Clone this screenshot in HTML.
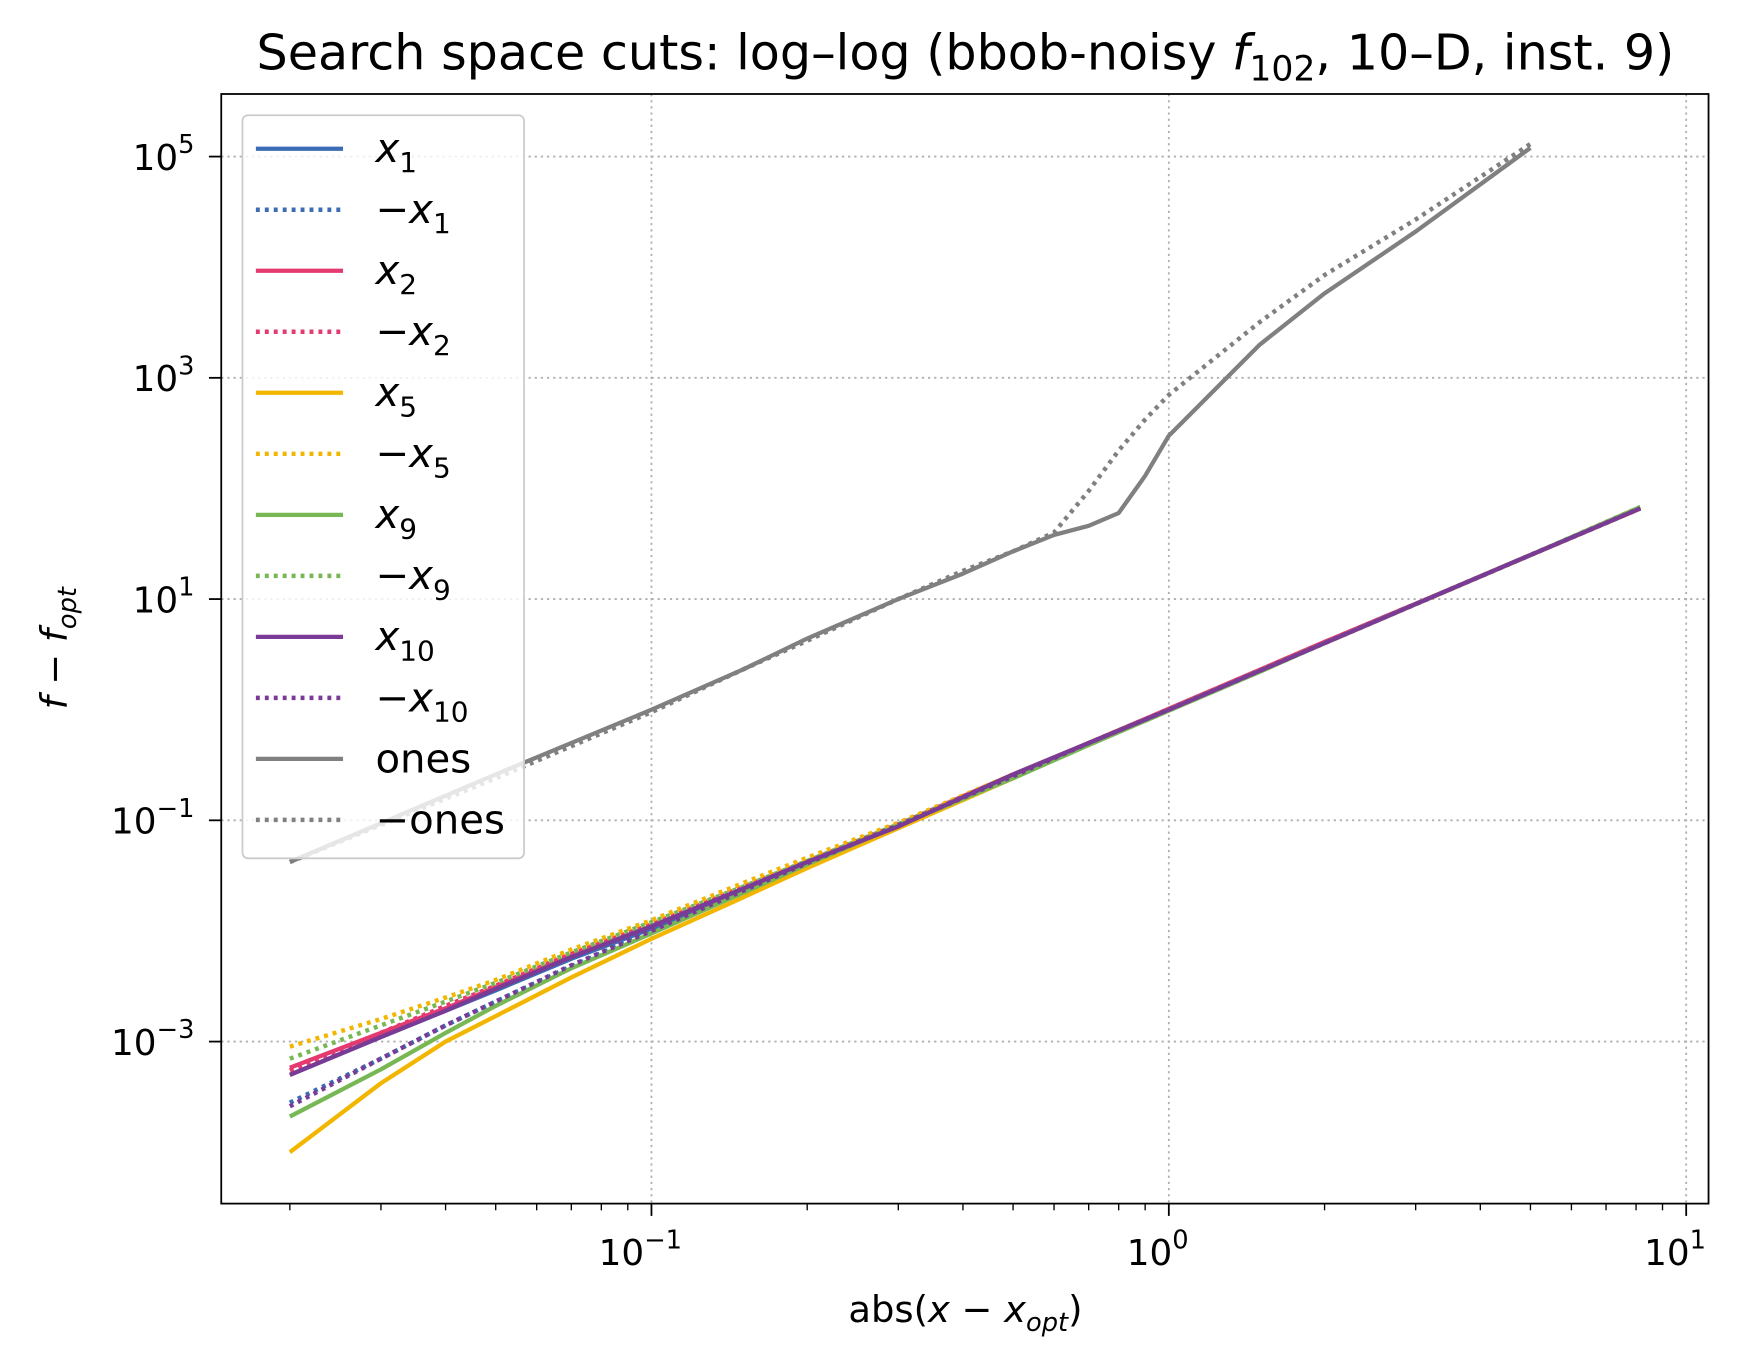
<!DOCTYPE html>
<html><head><meta charset="utf-8"><style>
body{margin:0;background:#fff}
svg{font-family:"DejaVu Sans","Liberation Sans",sans-serif;display:block}
</style></head><body>
<svg id="c" width="1751" height="1368" viewBox="0 0 1567 1224" xmlns="http://www.w3.org/2000/svg">
<rect width="1567" height="1224" fill="#fff"/>
<text x="864" y="62" font-size="44" text-anchor="middle">Search space cuts: log–log (bbob-noisy <tspan font-style="italic">f</tspan><tspan font-size="31" dy="10">102</tspan><tspan dy="-10">, 10–D, inst. 9)</tspan></text>
<g id="grid"></g>
<g id="series"></g>
<rect x="198" y="84" width="1331" height="993" fill="none" stroke="#000" stroke-width="1.6"/>
<g id="ticks"></g>
<text x="864" y="1183" font-size="33" text-anchor="middle">abs(<tspan font-style="italic">x</tspan> − <tspan font-style="italic">x</tspan><tspan font-size="23" dy="8" font-style="italic">opt</tspan><tspan dy="-8">)</tspan></text>
<text transform="translate(60,580) rotate(-90)" font-size="33" text-anchor="middle"><tspan font-style="italic">f</tspan> − <tspan font-style="italic">f</tspan><tspan font-size="23" dy="8" font-style="italic">opt</tspan></text>
<g id="legend"></g>
</svg>
<script>
const xs=[0.02,0.03,0.04,0.05,0.07,0.1,0.15,0.2,0.3,0.5,0.7,1,1.5,2,3,5,8.15];
const vX1=[5e-4,1.1e-3,1.9e-3,2.9e-3,5.6e-3,1.05e-2,2.3e-2,4.1e-2,9e-2,0.25,0.5,1.0,2.25,4.0,9.0,25,66];
const vNX1=[2.8e-4,7e-4,1.4e-3,2.3e-3,4.8e-3,1.0e-2,2.2e-2,4.0e-2,9e-2,0.25,0.49,1.0,2.25,4.0,9.0,25,66];
const vX2=[5.8e-4,1.2e-3,2.0e-3,3.1e-3,6e-3,1.1e-2,2.4e-2,4.2e-2,9.2e-2,0.26,0.5,1.02,2.3,4.1,9.1,25,66];
const vNX2=[5.5e-4,1.2e-3,2.1e-3,3.2e-3,6.2e-3,1.15e-2,2.5e-2,4.3e-2,9.3e-2,0.25,0.5,1.0,2.25,4.0,9.0,25,66];
const vX5=[1e-4,4.2e-4,1e-3,1.7e-3,3.8e-3,8.5e-3,2.0e-2,3.7e-2,8.5e-2,0.24,0.49,1.0,2.25,4.0,9.0,25,66];
const vNX5=[9e-4,1.6e-3,2.5e-3,3.6e-3,6.8e-3,1.25e-2,2.7e-2,4.6e-2,9.5e-2,0.26,0.5,1.0,2.25,4.0,9.0,25,66];
const vX9=[2.1e-4,5.6e-4,1.2e-3,2.1e-3,4.6e-3,9.5e-3,2.2e-2,4.0e-2,9e-2,0.24,0.48,0.98,2.2,4.0,9.0,25,68];
const vNX9=[7e-4,1.4e-3,2.3e-3,3.4e-3,6.4e-3,1.2e-2,2.5e-2,4.3e-2,9.2e-2,0.25,0.5,1.0,2.25,4.0,9.0,25,68];
const vX10=[5e-4,1.1e-3,1.9e-3,3.0e-3,5.8e-3,1.1e-2,2.4e-2,4.2e-2,8.8e-2,0.26,0.5,1.0,2.25,4.0,9.0,25,66];
const vNX10=[2.6e-4,7e-4,1.4e-3,2.3e-3,4.9e-3,1.0e-2,2.3e-2,4.1e-2,9e-2,0.25,0.5,1.0,2.25,4.0,9.0,25,66];
const xsOnes=[0.02,0.05,0.1,0.15,0.2,0.3,0.4,0.5,0.6,0.7,0.8,0.9,1,1.5,2,3,5];
const vOnes=[0.042,0.26,1.0,2.3,4.4,10,17,27,38,46,60,130,300,2000,5800,21000,120000];
const vNOnes=[0.042,0.24,0.95,2.3,4.2,10,18,27,40,95,220,420,700,3200,8500,27000,130000];
const names=["x1","-x1","x2","-x2","x5","-x5","x9","-x9","x10","-x10","ones","-ones"];
const labels=[["x","1"],["−x","1"],["x","2"],["−x","2"],["x","5"],["−x","5"],["x","9"],["−x","9"],["x","10"],["−x","10"],["ones",""],["−ones",""]];
const colors=["#3b6cb4","#3b6cb4","#e53a6f","#e53a6f","#f2b600","#f2b600","#78b854","#78b854","#7a3b96","#7a3b96","#808080","#808080"];
const data=[vX1,vNX1,vX2,vNX2,vX5,vNX5,vX9,vNX9,vX10,vNX10,vOnes,vNOnes];
const xTickExp=[-1,0,1];
const yTickExp=[-3,-1,1,3,5];
const NS="http://www.w3.org/2000/svg";
const X=v=>1046+463*Math.log10(v);
const Y=v=>635-99*Math.log10(v);
function mk(t,a,p){const e=document.createElementNS(NS,t);for(const k in a)e.setAttribute(k,a[k]);p.appendChild(e);return e;}
const grid=document.getElementById('grid'),ticks=document.getElementById('ticks'),ser=document.getElementById('series'),leg=document.getElementById('legend');
xTickExp.forEach(e=>{const x=X(Math.pow(10,e));
 const g=mk('line',{x1:x,x2:x,y1:84,y2:1077,stroke:'#b0b0b0','stroke-width':1.6,'stroke-dasharray':'2,3.5'},grid);
 
 const t=mk('line',{x1:x,x2:x,y1:1077,y2:1088,stroke:'#000','stroke-width':1.6},ticks);
 
 const l=mk('text',{x:x-10,y:1132,'font-size':32,'text-anchor':'middle'},ticks);
 
 l.innerHTML='10<tspan font-size="23" dy="-15">'+(e<0?'−'+(-e):e)+'</tspan>';});
for(let e=-2;e<1;e++)for(let m=2;m<10;m++){const x=X(m*Math.pow(10,e));if(x<198||x>1529)continue;
 const t=mk('line',{x1:x,x2:x,y1:1077,y2:1083,stroke:'#000','stroke-width':1.2},ticks);
 }
yTickExp.forEach(e=>{const y=Y(Math.pow(10,e));
 const g=mk('line',{x1:198,x2:1529,y1:y,y2:y,stroke:'#b0b0b0','stroke-width':1.6,'stroke-dasharray':'2,3.5'},grid);
 
 const t=mk('line',{x1:187,x2:198,y1:y,y2:y,stroke:'#000','stroke-width':1.6},ticks);
 
 const l=mk('text',{x:174,y:y+12,'font-size':32,'text-anchor':'end'},ticks);
 
 l.innerHTML='10<tspan font-size="23" dy="-15">'+(e<0?'−'+(-e):e)+'</tspan>';});
data.forEach((vals,i)=>{const xv=i>=10?xsOnes:xs;
 const d=vals.map((v,j)=>(j?'L':'M')+X(xv[j]).toFixed(1)+','+Y(v).toFixed(1)).join('');
 const p=mk('path',{d:d,fill:'none',stroke:colors[i],'stroke-width':i%2?4:3.8,'stroke-dasharray':i%2?'3.5,4.5':'none','stroke-linejoin':'round'},ser);
 });
const box=mk('rect',{x:217,y:103,width:252,height:665,rx:5,fill:'#fff','fill-opacity':0.8,stroke:'#ccc','stroke-width':1.6},leg);

labels.forEach((lb,i)=>{const y=133+i*54.6;
 const g=mk('g',{},leg);
 mk('line',{x1:229,x2:307,y1:y,y2:y,stroke:colors[i],'stroke-width':i%2?4:3.8,'stroke-dasharray':i%2?'3.5,4.5':'none'},g);
 const t=mk('text',{x:336,y:y+12,'font-size':36},g);
 if(lb[1])t.innerHTML=(lb[0][0]=='−'?'−':'')+'<tspan font-style="italic">x</tspan><tspan font-size="25" dy="9">'+lb[1]+'</tspan>';
 else t.textContent=lb[0];});
</script>
</body></html>
